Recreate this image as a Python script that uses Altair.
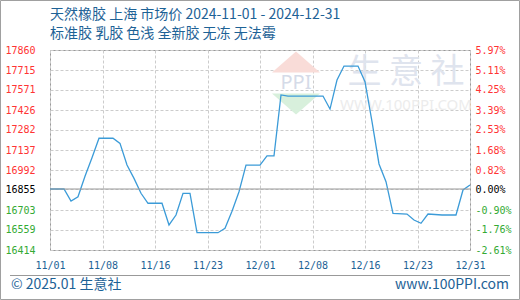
import altair as alt
import pandas as pd

# ---- data ----
dates = ["2024-11-01", "2024-11-03", "2024-11-04", "2024-11-05", "2024-11-06", "2024-11-07",
         "2024-11-08", "2024-11-10", "2024-11-11", "2024-11-12", "2024-11-13", "2024-11-14",
         "2024-11-15", "2024-11-17", "2024-11-18", "2024-11-19", "2024-11-20", "2024-11-21",
         "2024-11-22", "2024-11-25", "2024-11-26", "2024-11-27", "2024-11-28", "2024-11-29",
         "2024-12-01", "2024-12-02", "2024-12-03", "2024-12-04", "2024-12-05", "2024-12-10",
         "2024-12-11", "2024-12-12", "2024-12-13", "2024-12-15", "2024-12-16", "2024-12-17",
         "2024-12-18", "2024-12-19", "2024-12-20", "2024-12-22", "2024-12-23", "2024-12-24",
         "2024-12-25", "2024-12-27", "2024-12-29", "2024-12-30", "2024-12-31"]
prices = [16855, 16855, 16768, 16799, 16947, 17081,
          17222, 17222, 17185, 17029, 16932, 16824,
          16752, 16752, 16595, 16667, 16824, 16824,
          16539, 16539, 16571, 16694, 16835, 17028,
          17028, 17094, 17094, 17535, 17527, 17527,
          17433, 17643, 17744, 17744, 17631, 17342,
          17036, 16908, 16679, 16674, 16631, 16607,
          16674, 16667, 16667, 16848, 16884]

x_labels = ["11/01", "11/08", "11/16", "11/23", "12/01", "12/08", "12/16", "12/23", "12/31"]
y_ticks = [17860, 17715, 17571, 17426, 17282, 17137, 16992, 16855, 16703, 16559, 16414]
pct_labels = ["5.97%", "5.11%", "4.25%", "3.39%", "2.53%", "1.68%", "0.82%", "0.00%",
              "-0.90%", "-1.76%", "-2.61%"]
base_price = 16855
title1 = "天然橡胶 上海 市场价 2024-11-01 - 2024-12-31"
title2 = "标准胶 乳胶  色浅 全新胶 无冻 无法霉"
footer_left = "© 2025.01 生意社"
footer_right = "www.100PPI.com"

start = pd.Timestamp(dates[0])
end = pd.Timestamp("2024-12-31")
total_days = (end - start).days
df = pd.DataFrame({"date": dates, "price": prices})
df["day"] = [(pd.Timestamp(d) - start).days for d in dates]

step = total_days / (len(x_labels) - 1)
x_tick_vals = [i * step for i in range(len(x_labels))]
x_label_expr = "[" + ",".join(f"'{s}'" for s in x_labels) + f"][round(datum.value/{step})]"
tick_arr = "[" + ",".join(str(v) for v in y_ticks) + "]"
pct_expr = "[" + ",".join(f"'{s}'" for s in pct_labels) + f"][indexof({tick_arr}, datum.value)]"

BLUE = "#1d6296"
FONT = "DejaVu Sans Mono"
CJK = "Noto Sans CJK SC"
label_color = {"condition": [{"test": f"datum.value > {base_price}", "value": "#ff3333"},
                             {"test": f"datum.value < {base_price}", "value": "#33aa33"}],
               "value": "#000000"}

yscale = alt.Scale(domain=[min(y_ticks), max(y_ticks)], nice=False, zero=False)
xscale = alt.Scale(domain=[0, total_days], nice=False, zero=False)

line = alt.Chart(df).mark_line(color="#3b9bd8", strokeWidth=1.3).encode(
    x=alt.X("day:Q", scale=xscale,
            axis=alt.Axis(values=x_tick_vals, labelExpr=x_label_expr, title=None,
                          ticks=False, domain=False, grid=True, gridColor="#cccccc",
                          gridDash=[3, 2], labelColor=BLUE, labelFont=FONT, labelFontSize=10,
                          labelPadding=10, labelFlush=False)),
    y=alt.Y("price:Q", scale=yscale,
            axis=alt.Axis(values=y_ticks, title=None, ticks=False, domain=False, grid=True,
                          gridColor="#cccccc", gridDash=[3, 2], labelFont=FONT,
                          labelFontSize=10, labelPadding=15, labelColor=label_color,
                          format="d", labelFlush=False)),
)

base_df = pd.DataFrame({"base": [base_price]})
base_rule = alt.Chart(base_df).mark_rule(color="#999999", strokeWidth=1).encode(
    y=alt.Y("base:Q", scale=yscale,
            axis=alt.Axis(orient="right", values=y_ticks, title=None, ticks=False,
                          domain=False, grid=False, labelExpr=pct_expr, labelFont=FONT,
                          labelFontSize=10, labelPadding=5, labelColor=label_color,
                          labelFlush=False)),
)

def txt(t, x, y, size, color, align="left", font=CJK, baseline="middle"):
    return alt.Chart(pd.DataFrame({"t": [t]})).mark_text(
        align=align, baseline=baseline, fontSize=size, color=color, font=font
    ).encode(text="t:N", x=alt.value(x), y=alt.value(y))

# watermark
tri_df = pd.DataFrame({"k": ["up", "down"]})
tri_up = alt.Chart(tri_df.iloc[[0]]).mark_point(
    shape="M -1 0.44 L 1 0.44 L 0 -0.44 Z", filled=True, color="#f9dcd8", opacity=1, size=2304
).encode(x=alt.value(246), y=alt.value(12))
tri_down = alt.Chart(tri_df.iloc[[1]]).mark_point(
    shape="M -1 -0.44 L 1 -0.44 L 0 0.44 Z", filled=True, color="#d8f0dc", opacity=1, size=2304
).encode(x=alt.value(246), y=alt.value(54))
wm = [
    txt("生 意 社", 356, 23, 34, "#dfe4ee", align="center"),
    txt("WWW.100PPI.COM", 356, 55, 15, "#ececec", align="center", font="Noto Sans"),
    txt("PPI", 246, 33, 20, "#d5dbe8", align="center", font="Noto Sans"),
]

decor = [
    txt(title1, 0, -35, 14, BLUE),
    txt(title2, 0, -16, 14, BLUE),
    txt(footer_left, -39, 235, 14, BLUE),
    txt(footer_right, 459, 235, 14, BLUE, align="right"),
    alt.Chart(pd.DataFrame({"a": [0]})).mark_rule(color="#999999", strokeWidth=1).encode(
        x=alt.value(-40), x2=alt.value(460), y=alt.value(225.5)),
    alt.Chart(pd.DataFrame({"a": [0]})).mark_rect(
        fill=None, stroke="#a0a0a0", strokeWidth=1).encode(
        x=alt.value(-49.5), x2=alt.value(469.5), y=alt.value(-49.5), y2=alt.value(249.5)),
]

chart = alt.layer(tri_up, tri_down, *wm, line, base_rule, *decor).resolve_scale(
    y="independent"
).properties(
    width=420, height=200,
    autosize=alt.AutoSizeParams(type="none"),
    padding={"left": 50, "top": 50, "right": 50, "bottom": 50},
    background="white",
).configure_view(stroke="#999999", strokeWidth=1)

chart.save("out.html", embed_options={"renderer": "svg", "actions": False})
